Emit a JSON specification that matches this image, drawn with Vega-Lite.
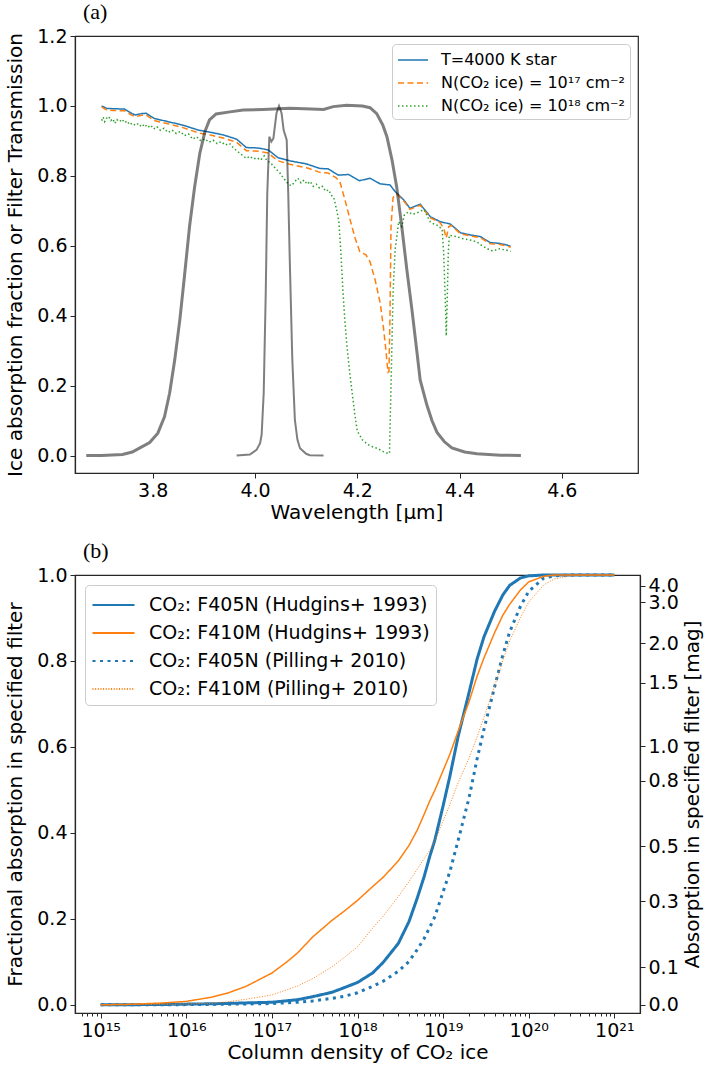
{
  "$schema": "https://vega.github.io/schema/vega-lite/v6.json",
  "background": "white",
  "padding": {"left": 5, "top": 0, "right": 2, "bottom": 2},
  "spacing": 16,
  "config": {
    "font": "DejaVu Sans",
    "view": {"stroke": "#262626", "strokeWidth": 1.2},
    "axis": {"labelFont": "DejaVu Sans", "labelFontSize": 19, "labelColor": "#000", "titleFont": "DejaVu Sans", "titleFontSize": 20, "titleFontWeight": "normal", "titleColor": "#000", "grid": false, "tickColor": "#262626", "domainColor": "#262626", "domainWidth": 1.2, "tickSize": 5, "tickWidth": 1, "labelPadding": 3, "labelOverlap": false, "labelFlush": false},
    "legend": {"labelFont": "DejaVu Sans", "labelColor": "#000", "strokeColor": "#cccccc", "fillColor": "white", "cornerRadius": 4, "labelLimit": 500},
    "title": {"font": "Liberation Serif", "fontSize": 22, "fontWeight": "normal", "anchor": "start", "frame": "group", "color": "#000"}
  },
  "datasets": {
    "spectra": [
      {"wavelength":3.700,"value":1.000,"series":"T=4000 K star"},
      {"wavelength":3.710,"value":0.993,"series":"T=4000 K star"},
      {"wavelength":3.722,"value":0.992,"series":"T=4000 K star"},
      {"wavelength":3.745,"value":0.991,"series":"T=4000 K star"},
      {"wavelength":3.757,"value":0.980,"series":"T=4000 K star"},
      {"wavelength":3.766,"value":0.974,"series":"T=4000 K star"},
      {"wavelength":3.778,"value":0.978,"series":"T=4000 K star"},
      {"wavelength":3.787,"value":0.979,"series":"T=4000 K star"},
      {"wavelength":3.803,"value":0.964,"series":"T=4000 K star"},
      {"wavelength":3.830,"value":0.955,"series":"T=4000 K star"},
      {"wavelength":3.859,"value":0.945,"series":"T=4000 K star"},
      {"wavelength":3.889,"value":0.931,"series":"T=4000 K star"},
      {"wavelength":3.915,"value":0.924,"series":"T=4000 K star"},
      {"wavelength":3.938,"value":0.917,"series":"T=4000 K star"},
      {"wavelength":3.964,"value":0.905,"series":"T=4000 K star"},
      {"wavelength":3.983,"value":0.881,"series":"T=4000 K star"},
      {"wavelength":4.000,"value":0.880,"series":"T=4000 K star"},
      {"wavelength":4.009,"value":0.879,"series":"T=4000 K star"},
      {"wavelength":4.026,"value":0.874,"series":"T=4000 K star"},
      {"wavelength":4.045,"value":0.852,"series":"T=4000 K star"},
      {"wavelength":4.068,"value":0.843,"series":"T=4000 K star"},
      {"wavelength":4.101,"value":0.834,"series":"T=4000 K star"},
      {"wavelength":4.127,"value":0.821,"series":"T=4000 K star"},
      {"wavelength":4.143,"value":0.820,"series":"T=4000 K star"},
      {"wavelength":4.163,"value":0.802,"series":"T=4000 K star"},
      {"wavelength":4.183,"value":0.804,"series":"T=4000 K star"},
      {"wavelength":4.204,"value":0.786,"series":"T=4000 K star"},
      {"wavelength":4.225,"value":0.793,"series":"T=4000 K star"},
      {"wavelength":4.245,"value":0.777,"series":"T=4000 K star"},
      {"wavelength":4.264,"value":0.774,"series":"T=4000 K star"},
      {"wavelength":4.274,"value":0.755,"series":"T=4000 K star"},
      {"wavelength":4.291,"value":0.731,"series":"T=4000 K star"},
      {"wavelength":4.303,"value":0.707,"series":"T=4000 K star"},
      {"wavelength":4.323,"value":0.719,"series":"T=4000 K star"},
      {"wavelength":4.343,"value":0.683,"series":"T=4000 K star"},
      {"wavelength":4.362,"value":0.669,"series":"T=4000 K star"},
      {"wavelength":4.382,"value":0.662,"series":"T=4000 K star"},
      {"wavelength":4.402,"value":0.637,"series":"T=4000 K star"},
      {"wavelength":4.421,"value":0.631,"series":"T=4000 K star"},
      {"wavelength":4.441,"value":0.626,"series":"T=4000 K star"},
      {"wavelength":4.460,"value":0.609,"series":"T=4000 K star"},
      {"wavelength":4.477,"value":0.607,"series":"T=4000 K star"},
      {"wavelength":4.493,"value":0.602,"series":"T=4000 K star"},
      {"wavelength":4.500,"value":0.598,"series":"T=4000 K star"},

      {"wavelength":3.700,"value":0.997,"series":"N(CO₂ ice) = 10¹⁷ cm⁻²"},
      {"wavelength":3.710,"value":0.988,"series":"N(CO₂ ice) = 10¹⁷ cm⁻²"},
      {"wavelength":3.722,"value":0.987,"series":"N(CO₂ ice) = 10¹⁷ cm⁻²"},
      {"wavelength":3.745,"value":0.986,"series":"N(CO₂ ice) = 10¹⁷ cm⁻²"},
      {"wavelength":3.757,"value":0.975,"series":"N(CO₂ ice) = 10¹⁷ cm⁻²"},
      {"wavelength":3.766,"value":0.969,"series":"N(CO₂ ice) = 10¹⁷ cm⁻²"},
      {"wavelength":3.778,"value":0.973,"series":"N(CO₂ ice) = 10¹⁷ cm⁻²"},
      {"wavelength":3.787,"value":0.974,"series":"N(CO₂ ice) = 10¹⁷ cm⁻²"},
      {"wavelength":3.803,"value":0.958,"series":"N(CO₂ ice) = 10¹⁷ cm⁻²"},
      {"wavelength":3.830,"value":0.949,"series":"N(CO₂ ice) = 10¹⁷ cm⁻²"},
      {"wavelength":3.859,"value":0.938,"series":"N(CO₂ ice) = 10¹⁷ cm⁻²"},
      {"wavelength":3.889,"value":0.923,"series":"N(CO₂ ice) = 10¹⁷ cm⁻²"},
      {"wavelength":3.915,"value":0.916,"series":"N(CO₂ ice) = 10¹⁷ cm⁻²"},
      {"wavelength":3.938,"value":0.908,"series":"N(CO₂ ice) = 10¹⁷ cm⁻²"},
      {"wavelength":3.964,"value":0.896,"series":"N(CO₂ ice) = 10¹⁷ cm⁻²"},
      {"wavelength":3.983,"value":0.872,"series":"N(CO₂ ice) = 10¹⁷ cm⁻²"},
      {"wavelength":4.000,"value":0.871,"series":"N(CO₂ ice) = 10¹⁷ cm⁻²"},
      {"wavelength":4.009,"value":0.870,"series":"N(CO₂ ice) = 10¹⁷ cm⁻²"},
      {"wavelength":4.026,"value":0.865,"series":"N(CO₂ ice) = 10¹⁷ cm⁻²"},
      {"wavelength":4.045,"value":0.843,"series":"N(CO₂ ice) = 10¹⁷ cm⁻²"},
      {"wavelength":4.068,"value":0.833,"series":"N(CO₂ ice) = 10¹⁷ cm⁻²"},
      {"wavelength":4.101,"value":0.823,"series":"N(CO₂ ice) = 10¹⁷ cm⁻²"},
      {"wavelength":4.127,"value":0.810,"series":"N(CO₂ ice) = 10¹⁷ cm⁻²"},
      {"wavelength":4.143,"value":0.808,"series":"N(CO₂ ice) = 10¹⁷ cm⁻²"},
      {"wavelength":4.158,"value":0.795,"series":"N(CO₂ ice) = 10¹⁷ cm⁻²"},
      {"wavelength":4.166,"value":0.783,"series":"N(CO₂ ice) = 10¹⁷ cm⁻²"},
      {"wavelength":4.176,"value":0.731,"series":"N(CO₂ ice) = 10¹⁷ cm⁻²"},
      {"wavelength":4.186,"value":0.674,"series":"N(CO₂ ice) = 10¹⁷ cm⁻²"},
      {"wavelength":4.196,"value":0.621,"series":"N(CO₂ ice) = 10¹⁷ cm⁻²"},
      {"wavelength":4.205,"value":0.583,"series":"N(CO₂ ice) = 10¹⁷ cm⁻²"},
      {"wavelength":4.217,"value":0.574,"series":"N(CO₂ ice) = 10¹⁷ cm⁻²"},
      {"wavelength":4.225,"value":0.554,"series":"N(CO₂ ice) = 10¹⁷ cm⁻²"},
      {"wavelength":4.235,"value":0.502,"series":"N(CO₂ ice) = 10¹⁷ cm⁻²"},
      {"wavelength":4.245,"value":0.435,"series":"N(CO₂ ice) = 10¹⁷ cm⁻²"},
      {"wavelength":4.251,"value":0.368,"series":"N(CO₂ ice) = 10¹⁷ cm⁻²"},
      {"wavelength":4.256,"value":0.302,"series":"N(CO₂ ice) = 10¹⁷ cm⁻²"},
      {"wavelength":4.260,"value":0.238,"series":"N(CO₂ ice) = 10¹⁷ cm⁻²"},
      {"wavelength":4.262,"value":0.240,"series":"N(CO₂ ice) = 10¹⁷ cm⁻²"},
      {"wavelength":4.264,"value":0.400,"series":"N(CO₂ ice) = 10¹⁷ cm⁻²"},
      {"wavelength":4.266,"value":0.655,"series":"N(CO₂ ice) = 10¹⁷ cm⁻²"},
      {"wavelength":4.270,"value":0.738,"series":"N(CO₂ ice) = 10¹⁷ cm⁻²"},
      {"wavelength":4.277,"value":0.748,"series":"N(CO₂ ice) = 10¹⁷ cm⁻²"},
      {"wavelength":4.291,"value":0.728,"series":"N(CO₂ ice) = 10¹⁷ cm⁻²"},
      {"wavelength":4.303,"value":0.704,"series":"N(CO₂ ice) = 10¹⁷ cm⁻²"},
      {"wavelength":4.323,"value":0.716,"series":"N(CO₂ ice) = 10¹⁷ cm⁻²"},
      {"wavelength":4.343,"value":0.680,"series":"N(CO₂ ice) = 10¹⁷ cm⁻²"},
      {"wavelength":4.362,"value":0.666,"series":"N(CO₂ ice) = 10¹⁷ cm⁻²"},
      {"wavelength":4.369,"value":0.650,"series":"N(CO₂ ice) = 10¹⁷ cm⁻²"},
      {"wavelength":4.374,"value":0.622,"series":"N(CO₂ ice) = 10¹⁷ cm⁻²"},
      {"wavelength":4.379,"value":0.655,"series":"N(CO₂ ice) = 10¹⁷ cm⁻²"},
      {"wavelength":4.384,"value":0.658,"series":"N(CO₂ ice) = 10¹⁷ cm⁻²"},
      {"wavelength":4.402,"value":0.634,"series":"N(CO₂ ice) = 10¹⁷ cm⁻²"},
      {"wavelength":4.421,"value":0.628,"series":"N(CO₂ ice) = 10¹⁷ cm⁻²"},
      {"wavelength":4.441,"value":0.623,"series":"N(CO₂ ice) = 10¹⁷ cm⁻²"},
      {"wavelength":4.460,"value":0.606,"series":"N(CO₂ ice) = 10¹⁷ cm⁻²"},
      {"wavelength":4.477,"value":0.604,"series":"N(CO₂ ice) = 10¹⁷ cm⁻²"},
      {"wavelength":4.493,"value":0.599,"series":"N(CO₂ ice) = 10¹⁷ cm⁻²"},
      {"wavelength":4.500,"value":0.596,"series":"N(CO₂ ice) = 10¹⁷ cm⁻²"},

      {"wavelength":3.700,"value":0.958,"series":"N(CO₂ ice) = 10¹⁸ cm⁻²"},
      {"wavelength":3.703,"value":0.968,"series":"N(CO₂ ice) = 10¹⁸ cm⁻²"},
      {"wavelength":3.706,"value":0.955,"series":"N(CO₂ ice) = 10¹⁸ cm⁻²"},
      {"wavelength":3.710,"value":0.965,"series":"N(CO₂ ice) = 10¹⁸ cm⁻²"},
      {"wavelength":3.714,"value":0.970,"series":"N(CO₂ ice) = 10¹⁸ cm⁻²"},
      {"wavelength":3.718,"value":0.958,"series":"N(CO₂ ice) = 10¹⁸ cm⁻²"},
      {"wavelength":3.722,"value":0.963,"series":"N(CO₂ ice) = 10¹⁸ cm⁻²"},
      {"wavelength":3.726,"value":0.950,"series":"N(CO₂ ice) = 10¹⁸ cm⁻²"},
      {"wavelength":3.730,"value":0.961,"series":"N(CO₂ ice) = 10¹⁸ cm⁻²"},
      {"wavelength":3.735,"value":0.955,"series":"N(CO₂ ice) = 10¹⁸ cm⁻²"},
      {"wavelength":3.740,"value":0.962,"series":"N(CO₂ ice) = 10¹⁸ cm⁻²"},
      {"wavelength":3.745,"value":0.952,"series":"N(CO₂ ice) = 10¹⁸ cm⁻²"},
      {"wavelength":3.750,"value":0.957,"series":"N(CO₂ ice) = 10¹⁸ cm⁻²"},
      {"wavelength":3.755,"value":0.946,"series":"N(CO₂ ice) = 10¹⁸ cm⁻²"},
      {"wavelength":3.760,"value":0.951,"series":"N(CO₂ ice) = 10¹⁸ cm⁻²"},
      {"wavelength":3.766,"value":0.944,"series":"N(CO₂ ice) = 10¹⁸ cm⁻²"},
      {"wavelength":3.772,"value":0.950,"series":"N(CO₂ ice) = 10¹⁸ cm⁻²"},
      {"wavelength":3.778,"value":0.940,"series":"N(CO₂ ice) = 10¹⁸ cm⁻²"},
      {"wavelength":3.784,"value":0.948,"series":"N(CO₂ ice) = 10¹⁸ cm⁻²"},
      {"wavelength":3.790,"value":0.938,"series":"N(CO₂ ice) = 10¹⁸ cm⁻²"},
      {"wavelength":3.796,"value":0.945,"series":"N(CO₂ ice) = 10¹⁸ cm⁻²"},
      {"wavelength":3.802,"value":0.934,"series":"N(CO₂ ice) = 10¹⁸ cm⁻²"},
      {"wavelength":3.808,"value":0.941,"series":"N(CO₂ ice) = 10¹⁸ cm⁻²"},
      {"wavelength":3.815,"value":0.930,"series":"N(CO₂ ice) = 10¹⁸ cm⁻²"},
      {"wavelength":3.822,"value":0.936,"series":"N(CO₂ ice) = 10¹⁸ cm⁻²"},
      {"wavelength":3.830,"value":0.924,"series":"N(CO₂ ice) = 10¹⁸ cm⁻²"},
      {"wavelength":3.838,"value":0.931,"series":"N(CO₂ ice) = 10¹⁸ cm⁻²"},
      {"wavelength":3.846,"value":0.921,"series":"N(CO₂ ice) = 10¹⁸ cm⁻²"},
      {"wavelength":3.854,"value":0.927,"series":"N(CO₂ ice) = 10¹⁸ cm⁻²"},
      {"wavelength":3.862,"value":0.915,"series":"N(CO₂ ice) = 10¹⁸ cm⁻²"},
      {"wavelength":3.870,"value":0.920,"series":"N(CO₂ ice) = 10¹⁸ cm⁻²"},
      {"wavelength":3.878,"value":0.905,"series":"N(CO₂ ice) = 10¹⁸ cm⁻²"},
      {"wavelength":3.886,"value":0.912,"series":"N(CO₂ ice) = 10¹⁸ cm⁻²"},
      {"wavelength":3.894,"value":0.900,"series":"N(CO₂ ice) = 10¹⁸ cm⁻²"},
      {"wavelength":3.902,"value":0.906,"series":"N(CO₂ ice) = 10¹⁸ cm⁻²"},
      {"wavelength":3.910,"value":0.896,"series":"N(CO₂ ice) = 10¹⁸ cm⁻²"},
      {"wavelength":3.918,"value":0.902,"series":"N(CO₂ ice) = 10¹⁸ cm⁻²"},
      {"wavelength":3.926,"value":0.892,"series":"N(CO₂ ice) = 10¹⁸ cm⁻²"},
      {"wavelength":3.934,"value":0.898,"series":"N(CO₂ ice) = 10¹⁸ cm⁻²"},
      {"wavelength":3.942,"value":0.888,"series":"N(CO₂ ice) = 10¹⁸ cm⁻²"},
      {"wavelength":3.950,"value":0.893,"series":"N(CO₂ ice) = 10¹⁸ cm⁻²"},
      {"wavelength":3.958,"value":0.880,"series":"N(CO₂ ice) = 10¹⁸ cm⁻²"},
      {"wavelength":3.964,"value":0.872,"series":"N(CO₂ ice) = 10¹⁸ cm⁻²"},
      {"wavelength":3.970,"value":0.865,"series":"N(CO₂ ice) = 10¹⁸ cm⁻²"},
      {"wavelength":3.976,"value":0.858,"series":"N(CO₂ ice) = 10¹⁸ cm⁻²"},
      {"wavelength":3.983,"value":0.850,"series":"N(CO₂ ice) = 10¹⁸ cm⁻²"},
      {"wavelength":3.990,"value":0.856,"series":"N(CO₂ ice) = 10¹⁸ cm⁻²"},
      {"wavelength":3.997,"value":0.848,"series":"N(CO₂ ice) = 10¹⁸ cm⁻²"},
      {"wavelength":4.004,"value":0.852,"series":"N(CO₂ ice) = 10¹⁸ cm⁻²"},
      {"wavelength":4.011,"value":0.845,"series":"N(CO₂ ice) = 10¹⁸ cm⁻²"},
      {"wavelength":4.018,"value":0.857,"series":"N(CO₂ ice) = 10¹⁸ cm⁻²"},
      {"wavelength":4.024,"value":0.842,"series":"N(CO₂ ice) = 10¹⁸ cm⁻²"},
      {"wavelength":4.030,"value":0.838,"series":"N(CO₂ ice) = 10¹⁸ cm⁻²"},
      {"wavelength":4.036,"value":0.828,"series":"N(CO₂ ice) = 10¹⁸ cm⁻²"},
      {"wavelength":4.042,"value":0.818,"series":"N(CO₂ ice) = 10¹⁸ cm⁻²"},
      {"wavelength":4.048,"value":0.810,"series":"N(CO₂ ice) = 10¹⁸ cm⁻²"},
      {"wavelength":4.054,"value":0.797,"series":"N(CO₂ ice) = 10¹⁸ cm⁻²"},
      {"wavelength":4.060,"value":0.786,"series":"N(CO₂ ice) = 10¹⁸ cm⁻²"},
      {"wavelength":4.066,"value":0.775,"series":"N(CO₂ ice) = 10¹⁸ cm⁻²"},
      {"wavelength":4.072,"value":0.772,"series":"N(CO₂ ice) = 10¹⁸ cm⁻²"},
      {"wavelength":4.078,"value":0.784,"series":"N(CO₂ ice) = 10¹⁸ cm⁻²"},
      {"wavelength":4.084,"value":0.793,"series":"N(CO₂ ice) = 10¹⁸ cm⁻²"},
      {"wavelength":4.090,"value":0.780,"series":"N(CO₂ ice) = 10¹⁸ cm⁻²"},
      {"wavelength":4.096,"value":0.788,"series":"N(CO₂ ice) = 10¹⁸ cm⁻²"},
      {"wavelength":4.102,"value":0.776,"series":"N(CO₂ ice) = 10¹⁸ cm⁻²"},
      {"wavelength":4.108,"value":0.784,"series":"N(CO₂ ice) = 10¹⁸ cm⁻²"},
      {"wavelength":4.114,"value":0.770,"series":"N(CO₂ ice) = 10¹⁸ cm⁻²"},
      {"wavelength":4.120,"value":0.776,"series":"N(CO₂ ice) = 10¹⁸ cm⁻²"},
      {"wavelength":4.126,"value":0.765,"series":"N(CO₂ ice) = 10¹⁸ cm⁻²"},
      {"wavelength":4.132,"value":0.770,"series":"N(CO₂ ice) = 10¹⁸ cm⁻²"},
      {"wavelength":4.138,"value":0.756,"series":"N(CO₂ ice) = 10¹⁸ cm⁻²"},
      {"wavelength":4.144,"value":0.760,"series":"N(CO₂ ice) = 10¹⁸ cm⁻²"},
      {"wavelength":4.149,"value":0.745,"series":"N(CO₂ ice) = 10¹⁸ cm⁻²"},
      {"wavelength":4.154,"value":0.738,"series":"N(CO₂ ice) = 10¹⁸ cm⁻²"},
      {"wavelength":4.157,"value":0.720,"series":"N(CO₂ ice) = 10¹⁸ cm⁻²"},
      {"wavelength":4.160,"value":0.700,"series":"N(CO₂ ice) = 10¹⁸ cm⁻²"},
      {"wavelength":4.164,"value":0.670,"series":"N(CO₂ ice) = 10¹⁸ cm⁻²"},
      {"wavelength":4.168,"value":0.580,"series":"N(CO₂ ice) = 10¹⁸ cm⁻²"},
      {"wavelength":4.172,"value":0.470,"series":"N(CO₂ ice) = 10¹⁸ cm⁻²"},
      {"wavelength":4.176,"value":0.380,"series":"N(CO₂ ice) = 10¹⁸ cm⁻²"},
      {"wavelength":4.180,"value":0.310,"series":"N(CO₂ ice) = 10¹⁸ cm⁻²"},
      {"wavelength":4.185,"value":0.240,"series":"N(CO₂ ice) = 10¹⁸ cm⁻²"},
      {"wavelength":4.190,"value":0.180,"series":"N(CO₂ ice) = 10¹⁸ cm⁻²"},
      {"wavelength":4.195,"value":0.120,"series":"N(CO₂ ice) = 10¹⁸ cm⁻²"},
      {"wavelength":4.200,"value":0.070,"series":"N(CO₂ ice) = 10¹⁸ cm⁻²"},
      {"wavelength":4.210,"value":0.045,"series":"N(CO₂ ice) = 10¹⁸ cm⁻²"},
      {"wavelength":4.220,"value":0.032,"series":"N(CO₂ ice) = 10¹⁸ cm⁻²"},
      {"wavelength":4.230,"value":0.025,"series":"N(CO₂ ice) = 10¹⁸ cm⁻²"},
      {"wavelength":4.240,"value":0.020,"series":"N(CO₂ ice) = 10¹⁸ cm⁻²"},
      {"wavelength":4.250,"value":0.012,"series":"N(CO₂ ice) = 10¹⁸ cm⁻²"},
      {"wavelength":4.258,"value":0.007,"series":"N(CO₂ ice) = 10¹⁸ cm⁻²"},
      {"wavelength":4.263,"value":0.006,"series":"N(CO₂ ice) = 10¹⁸ cm⁻²"},
      {"wavelength":4.266,"value":0.200,"series":"N(CO₂ ice) = 10¹⁸ cm⁻²"},
      {"wavelength":4.270,"value":0.465,"series":"N(CO₂ ice) = 10¹⁸ cm⁻²"},
      {"wavelength":4.274,"value":0.588,"series":"N(CO₂ ice) = 10¹⁸ cm⁻²"},
      {"wavelength":4.281,"value":0.669,"series":"N(CO₂ ice) = 10¹⁸ cm⁻²"},
      {"wavelength":4.287,"value":0.655,"series":"N(CO₂ ice) = 10¹⁸ cm⁻²"},
      {"wavelength":4.292,"value":0.688,"series":"N(CO₂ ice) = 10¹⁸ cm⁻²"},
      {"wavelength":4.300,"value":0.697,"series":"N(CO₂ ice) = 10¹⁸ cm⁻²"},
      {"wavelength":4.308,"value":0.690,"series":"N(CO₂ ice) = 10¹⁸ cm⁻²"},
      {"wavelength":4.317,"value":0.694,"series":"N(CO₂ ice) = 10¹⁸ cm⁻²"},
      {"wavelength":4.325,"value":0.700,"series":"N(CO₂ ice) = 10¹⁸ cm⁻²"},
      {"wavelength":4.331,"value":0.703,"series":"N(CO₂ ice) = 10¹⁸ cm⁻²"},
      {"wavelength":4.337,"value":0.684,"series":"N(CO₂ ice) = 10¹⁸ cm⁻²"},
      {"wavelength":4.343,"value":0.668,"series":"N(CO₂ ice) = 10¹⁸ cm⁻²"},
      {"wavelength":4.350,"value":0.662,"series":"N(CO₂ ice) = 10¹⁸ cm⁻²"},
      {"wavelength":4.356,"value":0.659,"series":"N(CO₂ ice) = 10¹⁸ cm⁻²"},
      {"wavelength":4.362,"value":0.652,"series":"N(CO₂ ice) = 10¹⁸ cm⁻²"},
      {"wavelength":4.366,"value":0.648,"series":"N(CO₂ ice) = 10¹⁸ cm⁻²"},
      {"wavelength":4.369,"value":0.580,"series":"N(CO₂ ice) = 10¹⁸ cm⁻²"},
      {"wavelength":4.372,"value":0.450,"series":"N(CO₂ ice) = 10¹⁸ cm⁻²"},
      {"wavelength":4.374,"value":0.342,"series":"N(CO₂ ice) = 10¹⁸ cm⁻²"},
      {"wavelength":4.376,"value":0.450,"series":"N(CO₂ ice) = 10¹⁸ cm⁻²"},
      {"wavelength":4.378,"value":0.580,"series":"N(CO₂ ice) = 10¹⁸ cm⁻²"},
      {"wavelength":4.380,"value":0.630,"series":"N(CO₂ ice) = 10¹⁸ cm⁻²"},
      {"wavelength":4.388,"value":0.628,"series":"N(CO₂ ice) = 10¹⁸ cm⁻²"},
      {"wavelength":4.395,"value":0.626,"series":"N(CO₂ ice) = 10¹⁸ cm⁻²"},
      {"wavelength":4.405,"value":0.621,"series":"N(CO₂ ice) = 10¹⁸ cm⁻²"},
      {"wavelength":4.415,"value":0.618,"series":"N(CO₂ ice) = 10¹⁸ cm⁻²"},
      {"wavelength":4.425,"value":0.615,"series":"N(CO₂ ice) = 10¹⁸ cm⁻²"},
      {"wavelength":4.434,"value":0.611,"series":"N(CO₂ ice) = 10¹⁸ cm⁻²"},
      {"wavelength":4.444,"value":0.600,"series":"N(CO₂ ice) = 10¹⁸ cm⁻²"},
      {"wavelength":4.454,"value":0.592,"series":"N(CO₂ ice) = 10¹⁸ cm⁻²"},
      {"wavelength":4.460,"value":0.587,"series":"N(CO₂ ice) = 10¹⁸ cm⁻²"},
      {"wavelength":4.467,"value":0.585,"series":"N(CO₂ ice) = 10¹⁸ cm⁻²"},
      {"wavelength":4.474,"value":0.590,"series":"N(CO₂ ice) = 10¹⁸ cm⁻²"},
      {"wavelength":4.480,"value":0.592,"series":"N(CO₂ ice) = 10¹⁸ cm⁻²"},
      {"wavelength":4.487,"value":0.588,"series":"N(CO₂ ice) = 10¹⁸ cm⁻²"},
      {"wavelength":4.493,"value":0.587,"series":"N(CO₂ ice) = 10¹⁸ cm⁻²"},
      {"wavelength":4.500,"value":0.584,"series":"N(CO₂ ice) = 10¹⁸ cm⁻²"}
    ],
    "f410m": [
      {"wavelength":3.670,"value":0.0},{"wavelength":3.700,"value":0.0},{"wavelength":3.741,"value":0.003},{"wavelength":3.760,"value":0.010},
      {"wavelength":3.774,"value":0.021},{"wavelength":3.794,"value":0.037},{"wavelength":3.810,"value":0.064},{"wavelength":3.823,"value":0.111},
      {"wavelength":3.833,"value":0.178},{"wavelength":3.843,"value":0.273},{"wavelength":3.853,"value":0.388},{"wavelength":3.862,"value":0.512},
      {"wavelength":3.872,"value":0.655},{"wavelength":3.882,"value":0.769},{"wavelength":3.892,"value":0.864},{"wavelength":3.902,"value":0.926},
      {"wavelength":3.911,"value":0.960},{"wavelength":3.924,"value":0.977},{"wavelength":3.951,"value":0.983},{"wavelength":3.977,"value":0.988},
      {"wavelength":4.016,"value":0.990},{"wavelength":4.068,"value":0.993},{"wavelength":4.110,"value":0.991},{"wavelength":4.134,"value":0.990},
      {"wavelength":4.153,"value":0.998},{"wavelength":4.179,"value":1.002},{"wavelength":4.210,"value":1.000},{"wavelength":4.225,"value":0.995},
      {"wavelength":4.238,"value":0.978},{"wavelength":4.250,"value":0.945},{"wavelength":4.258,"value":0.912},{"wavelength":4.268,"value":0.845},
      {"wavelength":4.277,"value":0.769},{"wavelength":4.287,"value":0.655},{"wavelength":4.297,"value":0.531},{"wavelength":4.307,"value":0.416},
      {"wavelength":4.317,"value":0.292},{"wavelength":4.323,"value":0.216},{"wavelength":4.336,"value":0.145},{"wavelength":4.346,"value":0.100},
      {"wavelength":4.356,"value":0.066},{"wavelength":4.370,"value":0.040},{"wavelength":4.385,"value":0.022},{"wavelength":4.410,"value":0.010},
      {"wavelength":4.434,"value":0.005},{"wavelength":4.480,"value":0.001},{"wavelength":4.520,"value":0.0}
    ],
    "f405n": [
      {"wavelength":3.964,"value":0.0},{"wavelength":3.990,"value":0.003},{"wavelength":4.003,"value":0.016},{"wavelength":4.010,"value":0.035},
      {"wavelength":4.013,"value":0.060},{"wavelength":4.017,"value":0.178},{"wavelength":4.021,"value":0.464},{"wavelength":4.024,"value":0.750},
      {"wavelength":4.028,"value":0.912},{"wavelength":4.032,"value":0.898},{"wavelength":4.036,"value":0.907},{"wavelength":4.042,"value":0.979},
      {"wavelength":4.047,"value":1.000},{"wavelength":4.052,"value":0.979},{"wavelength":4.056,"value":0.931},{"wavelength":4.062,"value":0.903},
      {"wavelength":4.065,"value":0.750},{"wavelength":4.068,"value":0.559},{"wavelength":4.073,"value":0.273},{"wavelength":4.078,"value":0.102},
      {"wavelength":4.083,"value":0.045},{"wavelength":4.088,"value":0.021},{"wavelength":4.100,"value":0.005},{"wavelength":4.107,"value":0.001},
      {"wavelength":4.134,"value":0.0}
    ],
    "absn": [
      {"N":1e15,"frac":0,"series":"CO₂: F405N (Hudgins+ 1993)"},
      {"N":2e15,"frac":0.0003,"series":"CO₂: F405N (Hudgins+ 1993)"},
      {"N":5e15,"frac":0.0008,"series":"CO₂: F405N (Hudgins+ 1993)"},
      {"N":1e16,"frac":0.0016,"series":"CO₂: F405N (Hudgins+ 1993)"},
      {"N":2e16,"frac":0.0025,"series":"CO₂: F405N (Hudgins+ 1993)"},
      {"N":3e16,"frac":0.0033,"series":"CO₂: F405N (Hudgins+ 1993)"},
      {"N":5e16,"frac":0.0045,"series":"CO₂: F405N (Hudgins+ 1993)"},
      {"N":1e17,"frac":0.006,"series":"CO₂: F405N (Hudgins+ 1993)"},
      {"N":2e17,"frac":0.012,"series":"CO₂: F405N (Hudgins+ 1993)"},
      {"N":3e17,"frac":0.019,"series":"CO₂: F405N (Hudgins+ 1993)"},
      {"N":5e17,"frac":0.029,"series":"CO₂: F405N (Hudgins+ 1993)"},
      {"N":7e17,"frac":0.040,"series":"CO₂: F405N (Hudgins+ 1993)"},
      {"N":1e18,"frac":0.052,"series":"CO₂: F405N (Hudgins+ 1993)"},
      {"N":1.5e18,"frac":0.074,"series":"CO₂: F405N (Hudgins+ 1993)"},
      {"N":2e18,"frac":0.099,"series":"CO₂: F405N (Hudgins+ 1993)"},
      {"N":3e18,"frac":0.143,"series":"CO₂: F405N (Hudgins+ 1993)"},
      {"N":4e18,"frac":0.194,"series":"CO₂: F405N (Hudgins+ 1993)"},
      {"N":5e18,"frac":0.249,"series":"CO₂: F405N (Hudgins+ 1993)"},
      {"N":6e18,"frac":0.298,"series":"CO₂: F405N (Hudgins+ 1993)"},
      {"N":7e18,"frac":0.346,"series":"CO₂: F405N (Hudgins+ 1993)"},
      {"N":8e18,"frac":0.383,"series":"CO₂: F405N (Hudgins+ 1993)"},
      {"N":1e19,"frac":0.463,"series":"CO₂: F405N (Hudgins+ 1993)"},
      {"N":1.2e19,"frac":0.532,"series":"CO₂: F405N (Hudgins+ 1993)"},
      {"N":1.5e19,"frac":0.625,"series":"CO₂: F405N (Hudgins+ 1993)"},
      {"N":2e19,"frac":0.725,"series":"CO₂: F405N (Hudgins+ 1993)"},
      {"N":2.5e19,"frac":0.805,"series":"CO₂: F405N (Hudgins+ 1993)"},
      {"N":3e19,"frac":0.856,"series":"CO₂: F405N (Hudgins+ 1993)"},
      {"N":4e19,"frac":0.916,"series":"CO₂: F405N (Hudgins+ 1993)"},
      {"N":5e19,"frac":0.954,"series":"CO₂: F405N (Hudgins+ 1993)"},
      {"N":6e19,"frac":0.976,"series":"CO₂: F405N (Hudgins+ 1993)"},
      {"N":8e19,"frac":0.993,"series":"CO₂: F405N (Hudgins+ 1993)"},
      {"N":1e20,"frac":0.998,"series":"CO₂: F405N (Hudgins+ 1993)"},
      {"N":1.5e20,"frac":1.0,"series":"CO₂: F405N (Hudgins+ 1993)"},
      {"N":1e21,"frac":1.0,"series":"CO₂: F405N (Hudgins+ 1993)"},

      {"N":1e15,"frac":0,"series":"CO₂: F410M (Hudgins+ 1993)"},
      {"N":2e15,"frac":0.001,"series":"CO₂: F410M (Hudgins+ 1993)"},
      {"N":5e15,"frac":0.004,"series":"CO₂: F410M (Hudgins+ 1993)"},
      {"N":1e16,"frac":0.008,"series":"CO₂: F410M (Hudgins+ 1993)"},
      {"N":2e16,"frac":0.018,"series":"CO₂: F410M (Hudgins+ 1993)"},
      {"N":3e16,"frac":0.027,"series":"CO₂: F410M (Hudgins+ 1993)"},
      {"N":5e16,"frac":0.043,"series":"CO₂: F410M (Hudgins+ 1993)"},
      {"N":1e17,"frac":0.074,"series":"CO₂: F410M (Hudgins+ 1993)"},
      {"N":1.5e17,"frac":0.100,"series":"CO₂: F410M (Hudgins+ 1993)"},
      {"N":2e17,"frac":0.121,"series":"CO₂: F410M (Hudgins+ 1993)"},
      {"N":3e17,"frac":0.158,"series":"CO₂: F410M (Hudgins+ 1993)"},
      {"N":5e17,"frac":0.196,"series":"CO₂: F410M (Hudgins+ 1993)"},
      {"N":7e17,"frac":0.218,"series":"CO₂: F410M (Hudgins+ 1993)"},
      {"N":1e18,"frac":0.243,"series":"CO₂: F410M (Hudgins+ 1993)"},
      {"N":1.5e18,"frac":0.275,"series":"CO₂: F410M (Hudgins+ 1993)"},
      {"N":2e18,"frac":0.297,"series":"CO₂: F410M (Hudgins+ 1993)"},
      {"N":3e18,"frac":0.335,"series":"CO₂: F410M (Hudgins+ 1993)"},
      {"N":4e18,"frac":0.371,"series":"CO₂: F410M (Hudgins+ 1993)"},
      {"N":5e18,"frac":0.407,"series":"CO₂: F410M (Hudgins+ 1993)"},
      {"N":6e18,"frac":0.443,"series":"CO₂: F410M (Hudgins+ 1993)"},
      {"N":7e18,"frac":0.475,"series":"CO₂: F410M (Hudgins+ 1993)"},
      {"N":8e18,"frac":0.499,"series":"CO₂: F410M (Hudgins+ 1993)"},
      {"N":1e19,"frac":0.545,"series":"CO₂: F410M (Hudgins+ 1993)"},
      {"N":1.2e19,"frac":0.583,"series":"CO₂: F410M (Hudgins+ 1993)"},
      {"N":1.5e19,"frac":0.637,"series":"CO₂: F410M (Hudgins+ 1993)"},
      {"N":2e19,"frac":0.704,"series":"CO₂: F410M (Hudgins+ 1993)"},
      {"N":2.5e19,"frac":0.765,"series":"CO₂: F410M (Hudgins+ 1993)"},
      {"N":3e19,"frac":0.807,"series":"CO₂: F410M (Hudgins+ 1993)"},
      {"N":4e19,"frac":0.866,"series":"CO₂: F410M (Hudgins+ 1993)"},
      {"N":5e19,"frac":0.907,"series":"CO₂: F410M (Hudgins+ 1993)"},
      {"N":6e19,"frac":0.932,"series":"CO₂: F410M (Hudgins+ 1993)"},
      {"N":8e19,"frac":0.965,"series":"CO₂: F410M (Hudgins+ 1993)"},
      {"N":1e20,"frac":0.984,"series":"CO₂: F410M (Hudgins+ 1993)"},
      {"N":1.5e20,"frac":0.997,"series":"CO₂: F410M (Hudgins+ 1993)"},
      {"N":2e20,"frac":1.0,"series":"CO₂: F410M (Hudgins+ 1993)"},
      {"N":1e21,"frac":1.0,"series":"CO₂: F410M (Hudgins+ 1993)"},

      {"N":1e15,"frac":0,"series":"CO₂: F405N (Pilling+ 2010)"},
      {"N":2e15,"frac":0.0001,"series":"CO₂: F405N (Pilling+ 2010)"},
      {"N":5e15,"frac":0.0003,"series":"CO₂: F405N (Pilling+ 2010)"},
      {"N":1e16,"frac":0.0005,"series":"CO₂: F405N (Pilling+ 2010)"},
      {"N":2e16,"frac":0.001,"series":"CO₂: F405N (Pilling+ 2010)"},
      {"N":3e16,"frac":0.0014,"series":"CO₂: F405N (Pilling+ 2010)"},
      {"N":5e16,"frac":0.002,"series":"CO₂: F405N (Pilling+ 2010)"},
      {"N":1e17,"frac":0.003,"series":"CO₂: F405N (Pilling+ 2010)"},
      {"N":2e17,"frac":0.006,"series":"CO₂: F405N (Pilling+ 2010)"},
      {"N":3e17,"frac":0.009,"series":"CO₂: F405N (Pilling+ 2010)"},
      {"N":5e17,"frac":0.015,"series":"CO₂: F405N (Pilling+ 2010)"},
      {"N":7e17,"frac":0.020,"series":"CO₂: F405N (Pilling+ 2010)"},
      {"N":1e18,"frac":0.028,"series":"CO₂: F405N (Pilling+ 2010)"},
      {"N":1.5e18,"frac":0.043,"series":"CO₂: F405N (Pilling+ 2010)"},
      {"N":2e18,"frac":0.055,"series":"CO₂: F405N (Pilling+ 2010)"},
      {"N":3e18,"frac":0.078,"series":"CO₂: F405N (Pilling+ 2010)"},
      {"N":4e18,"frac":0.101,"series":"CO₂: F405N (Pilling+ 2010)"},
      {"N":5e18,"frac":0.129,"series":"CO₂: F405N (Pilling+ 2010)"},
      {"N":6e18,"frac":0.154,"series":"CO₂: F405N (Pilling+ 2010)"},
      {"N":7e18,"frac":0.181,"series":"CO₂: F405N (Pilling+ 2010)"},
      {"N":8e18,"frac":0.205,"series":"CO₂: F405N (Pilling+ 2010)"},
      {"N":1e19,"frac":0.263,"series":"CO₂: F405N (Pilling+ 2010)"},
      {"N":1.2e19,"frac":0.310,"series":"CO₂: F405N (Pilling+ 2010)"},
      {"N":1.5e19,"frac":0.383,"series":"CO₂: F405N (Pilling+ 2010)"},
      {"N":2e19,"frac":0.480,"series":"CO₂: F405N (Pilling+ 2010)"},
      {"N":2.5e19,"frac":0.573,"series":"CO₂: F405N (Pilling+ 2010)"},
      {"N":3e19,"frac":0.641,"series":"CO₂: F405N (Pilling+ 2010)"},
      {"N":4e19,"frac":0.740,"series":"CO₂: F405N (Pilling+ 2010)"},
      {"N":5e19,"frac":0.815,"series":"CO₂: F405N (Pilling+ 2010)"},
      {"N":6e19,"frac":0.868,"series":"CO₂: F405N (Pilling+ 2010)"},
      {"N":8e19,"frac":0.927,"series":"CO₂: F405N (Pilling+ 2010)"},
      {"N":1e20,"frac":0.962,"series":"CO₂: F405N (Pilling+ 2010)"},
      {"N":1.5e20,"frac":0.993,"series":"CO₂: F405N (Pilling+ 2010)"},
      {"N":2e20,"frac":0.998,"series":"CO₂: F405N (Pilling+ 2010)"},
      {"N":3e20,"frac":1.0,"series":"CO₂: F405N (Pilling+ 2010)"},
      {"N":1e21,"frac":1.0,"series":"CO₂: F405N (Pilling+ 2010)"},

      {"N":1e15,"frac":0,"series":"CO₂: F410M (Pilling+ 2010)"},
      {"N":2e15,"frac":0.0003,"series":"CO₂: F410M (Pilling+ 2010)"},
      {"N":5e15,"frac":0.001,"series":"CO₂: F410M (Pilling+ 2010)"},
      {"N":1e16,"frac":0.002,"series":"CO₂: F410M (Pilling+ 2010)"},
      {"N":2e16,"frac":0.004,"series":"CO₂: F410M (Pilling+ 2010)"},
      {"N":3e16,"frac":0.007,"series":"CO₂: F410M (Pilling+ 2010)"},
      {"N":5e16,"frac":0.013,"series":"CO₂: F410M (Pilling+ 2010)"},
      {"N":1e17,"frac":0.023,"series":"CO₂: F410M (Pilling+ 2010)"},
      {"N":1.5e17,"frac":0.035,"series":"CO₂: F410M (Pilling+ 2010)"},
      {"N":2e17,"frac":0.044,"series":"CO₂: F410M (Pilling+ 2010)"},
      {"N":3e17,"frac":0.061,"series":"CO₂: F410M (Pilling+ 2010)"},
      {"N":5e17,"frac":0.088,"series":"CO₂: F410M (Pilling+ 2010)"},
      {"N":7e17,"frac":0.110,"series":"CO₂: F410M (Pilling+ 2010)"},
      {"N":1e18,"frac":0.135,"series":"CO₂: F410M (Pilling+ 2010)"},
      {"N":1.5e18,"frac":0.178,"series":"CO₂: F410M (Pilling+ 2010)"},
      {"N":2e18,"frac":0.207,"series":"CO₂: F410M (Pilling+ 2010)"},
      {"N":3e18,"frac":0.252,"series":"CO₂: F410M (Pilling+ 2010)"},
      {"N":4e18,"frac":0.287,"series":"CO₂: F410M (Pilling+ 2010)"},
      {"N":5e18,"frac":0.316,"series":"CO₂: F410M (Pilling+ 2010)"},
      {"N":6e18,"frac":0.340,"series":"CO₂: F410M (Pilling+ 2010)"},
      {"N":7e18,"frac":0.360,"series":"CO₂: F410M (Pilling+ 2010)"},
      {"N":8e18,"frac":0.381,"series":"CO₂: F410M (Pilling+ 2010)"},
      {"N":1e19,"frac":0.428,"series":"CO₂: F410M (Pilling+ 2010)"},
      {"N":1.2e19,"frac":0.466,"series":"CO₂: F410M (Pilling+ 2010)"},
      {"N":1.5e19,"frac":0.517,"series":"CO₂: F410M (Pilling+ 2010)"},
      {"N":2e19,"frac":0.573,"series":"CO₂: F410M (Pilling+ 2010)"},
      {"N":2.5e19,"frac":0.624,"series":"CO₂: F410M (Pilling+ 2010)"},
      {"N":3e19,"frac":0.669,"series":"CO₂: F410M (Pilling+ 2010)"},
      {"N":4e19,"frac":0.742,"series":"CO₂: F410M (Pilling+ 2010)"},
      {"N":5e19,"frac":0.802,"series":"CO₂: F410M (Pilling+ 2010)"},
      {"N":6e19,"frac":0.847,"series":"CO₂: F410M (Pilling+ 2010)"},
      {"N":8e19,"frac":0.901,"series":"CO₂: F410M (Pilling+ 2010)"},
      {"N":1e20,"frac":0.937,"series":"CO₂: F410M (Pilling+ 2010)"},
      {"N":1.5e20,"frac":0.977,"series":"CO₂: F410M (Pilling+ 2010)"},
      {"N":2e20,"frac":0.991,"series":"CO₂: F410M (Pilling+ 2010)"},
      {"N":3e20,"frac":0.998,"series":"CO₂: F410M (Pilling+ 2010)"},
      {"N":5e20,"frac":1.0,"series":"CO₂: F410M (Pilling+ 2010)"},
      {"N":1e21,"frac":1.0,"series":"CO₂: F410M (Pilling+ 2010)"}
    ]
  },
  "resolve": {"scale": {"color": "independent", "strokeDash": "independent"}, "legend": {"color": "independent", "strokeDash": "independent"}},
  "vconcat": [
    {
      "title": {"text": "(a)", "dx": 8, "offset": 3},
      "width": 563,
      "height": 437,
      "layer": [
        {
          "data": {"name": "spectra"},
          "mark": {"type": "line", "strokeWidth": 1.5},
          "encoding": {
            "x": {"field": "wavelength", "type": "quantitative", "scale": {"domain": [3.648, 4.749], "nice": false, "zero": false}, "axis": {"values": [3.8, 4.0, 4.2, 4.4, 4.6], "format": ".1f", "title": "Wavelength [μm]", "titlePadding": 2}},
            "y": {"field": "value", "type": "quantitative", "scale": {"domain": [-0.05, 1.2], "nice": false, "zero": false}, "axis": {"values": [0, 0.2, 0.4, 0.6, 0.8, 1.0, 1.2], "format": ".1f", "title": "Ice absorption fraction or Filter Transmission", "titlePadding": 11}},
            "color": {"field": "series", "type": "nominal", "scale": {"domain": ["T=4000 K star", "N(CO₂ ice) = 10¹⁷ cm⁻²", "N(CO₂ ice) = 10¹⁸ cm⁻²"], "range": ["#1f77b4", "#ff7f0e", "#2ca02c"]}, "legend": {"title": null, "orient": "top-right", "offset": 8, "labelFontSize": 16, "symbolType": "M-1,0H2", "symbolSize": 400, "symbolStrokeWidth": 1.5, "labelOffset": 22, "rowPadding": 4, "padding": 5}},
            "strokeDash": {"field": "series", "type": "nominal", "scale": {"domain": ["T=4000 K star", "N(CO₂ ice) = 10¹⁷ cm⁻²", "N(CO₂ ice) = 10¹⁸ cm⁻²"], "range": [[1, 0], [6, 3.5], [1.5, 2.5]]}, "legend": {"title": null, "orient": "top-right", "offset": 8, "labelFontSize": 16, "symbolType": "M-1,0H2", "symbolSize": 400, "symbolStrokeWidth": 1.5, "labelOffset": 22, "rowPadding": 4, "padding": 5}}
          }
        },
        {
          "data": {"name": "f410m"},
          "mark": {"type": "line", "stroke": "#000", "strokeOpacity": 0.5, "strokeWidth": 3},
          "encoding": {"x": {"field": "wavelength", "type": "quantitative"}, "y": {"field": "value", "type": "quantitative"}}
        },
        {
          "data": {"name": "f405n"},
          "mark": {"type": "line", "stroke": "#000", "strokeOpacity": 0.5, "strokeWidth": 2},
          "encoding": {"x": {"field": "wavelength", "type": "quantitative"}, "y": {"field": "value", "type": "quantitative"}}
        }
      ]
    },
    {
      "title": {"text": "(b)", "dx": 8, "offset": 3},
      "width": 565,
      "height": 438,
      "layer": [
        {
          "data": {"name": "absn"},
          "encoding": {
            "x": {"field": "N", "type": "quantitative", "scale": {"type": "log", "domain": [5.012e14, 1.995e21], "nice": false}, "axis": {"orient": "bottom", "values": [1e15, 1e16, 1e17, 1e18, 1e19, 1e20, 1e21], "labelExpr": "'10' + (datum.value >= 1e21 ? '²¹' : datum.value >= 1e20 ? '²⁰' : datum.value >= 1e19 ? '¹⁹' : datum.value >= 1e18 ? '¹⁸' : datum.value >= 1e17 ? '¹⁷' : datum.value >= 1e16 ? '¹⁶' : '¹⁵')", "title": "Column density of CO₂ ice", "titlePadding": 2}},
            "y": {"field": "frac", "type": "quantitative", "scale": {"domain": [-0.019, 1.0], "nice": false, "zero": false}, "axis": {"orient": "left", "values": [0, 0.2, 0.4, 0.6, 0.8, 1.0], "format": ".1f", "title": "Fractional absorption in specified filter", "titlePadding": 11}},
            "color": {"field": "series", "type": "nominal", "scale": {"domain": ["CO₂: F405N (Hudgins+ 1993)", "CO₂: F410M (Hudgins+ 1993)", "CO₂: F405N (Pilling+ 2010)", "CO₂: F410M (Pilling+ 2010)"], "range": ["#1f77b4", "#ff7f0e", "#1f77b4", "#ff7f0e"]}, "legend": {"title": null, "orient": "top-left", "offset": 10, "labelFontSize": 19, "symbolType": "M-1,0H2.36", "symbolSize": 625, "symbolStrokeWidth": 2.2, "labelOffset": 30, "rowPadding": 4, "padding": 6}},
            "strokeDash": {"field": "series", "type": "nominal", "scale": {"domain": ["CO₂: F405N (Hudgins+ 1993)", "CO₂: F410M (Hudgins+ 1993)", "CO₂: F405N (Pilling+ 2010)", "CO₂: F410M (Pilling+ 2010)"], "range": [[1, 0], [1, 0], [3, 4.5], [1, 1.65]]}, "legend": {"title": null, "orient": "top-left", "offset": 10, "labelFontSize": 19, "symbolType": "M-1,0H2.36", "symbolSize": 625, "symbolStrokeWidth": 2.2, "labelOffset": 30, "rowPadding": 4, "padding": 6}}
          },
          "layer": [
            {"transform": [{"filter": "indexof(datum.series, 'F405N') >= 0"}], "mark": {"type": "line", "strokeWidth": 3}},
            {"transform": [{"filter": "datum.series == 'CO₂: F410M (Hudgins+ 1993)'"}], "mark": {"type": "line", "strokeWidth": 1.5}},
            {"transform": [{"filter": "datum.series == 'CO₂: F410M (Pilling+ 2010)'"}], "mark": {"type": "line", "strokeWidth": 1}}
          ]
        },
        {
          "data": {"name": "absn"},
          "mark": {"type": "point", "opacity": 0},
          "encoding": {
            "x": {"field": "N", "type": "quantitative", "scale": {"type": "log", "domain": [5.012e14, 1.995e21], "nice": false}, "axis": {"orient": "bottom", "values": [6e14, 7e14, 8e14, 9e14, 2e15, 3e15, 4e15, 5e15, 6e15, 7e15, 8e15, 9e15, 2e16, 3e16, 4e16, 5e16, 6e16, 7e16, 8e16, 9e16, 2e17, 3e17, 4e17, 5e17, 6e17, 7e17, 8e17, 9e17, 2e18, 3e18, 4e18, 5e18, 6e18, 7e18, 8e18, 9e18, 2e19, 3e19, 4e19, 5e19, 6e19, 7e19, 8e19, 9e19, 2e20, 3e20, 4e20, 5e20, 6e20, 7e20, 8e20, 9e20], "labels": false, "tickSize": 3, "domain": false, "title": null}},
            "y": {"field": "frac", "type": "quantitative", "scale": {"domain": [-0.019, 1.0], "nice": false, "zero": false}, "axis": {"orient": "right", "values": [0, 0.087989, 0.241422, 0.369043, 0.52137, 0.601893, 0.748811, 0.841511, 0.936904, 0.974881], "labelExpr": "format(abs(-2.5*log(1-datum.value)/LN10), '.1f')", "title": "Absorption in specified filter [mag]", "titleAngle": 270, "titleBaseline": "top", "titlePadding": 4}}
          }
        }
      ],
      "resolve": {"scale": {"x": "independent", "y": "independent"}, "axis": {"x": "independent", "y": "independent"}}
    }
  ]
}
